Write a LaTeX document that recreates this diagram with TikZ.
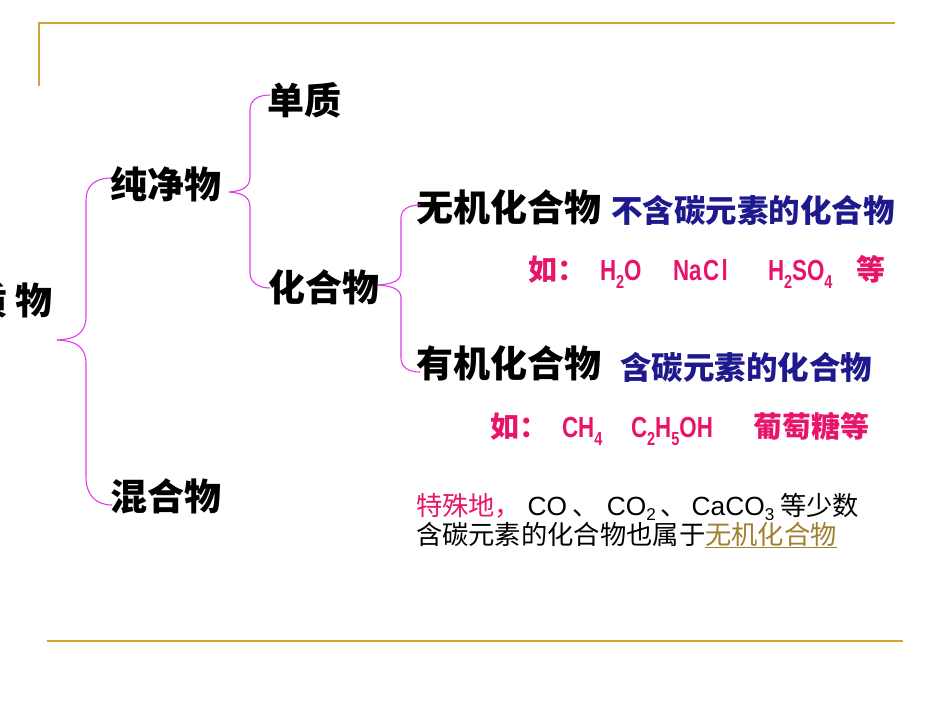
\documentclass[tikz,border=0pt]{standalone}
\usepackage{fontspec}
\usepackage{graphicx}
\usetikzlibrary{calc}
\setmainfont{Liberation Sans}
\newfontfamily\cjk{Noto Sans CJK SC}
\definecolor{gold}{RGB}{208,168,48}
\definecolor{bracec}{RGB}{225,60,235}
\definecolor{navyt}{RGB}{30,25,140}
\definecolor{pinkt}{RGB}{232,20,105}
\definecolor{ulc}{RGB}{160,128,48}
\newcommand\sbs[1]{\raisebox{-0.28em}{\scalebox{0.65}{#1}}}
\newcommand\sbn[1]{\raisebox{-0.2em}{\scalebox{0.65}{#1}}}
\newcommand\fsz[1]{\fontsize{#1}{#1}\selectfont}
\newcommand\fm[1]{\scalebox{0.77}[1]{\rmfamily\bfseries #1}}
\tikzset{
  every node/.style={inner sep=0pt, outer sep=0pt},
  mainlbl/.style={font=\cjk\bfseries\fsz{37}, text=black},
  desc/.style={font=\cjk\bfseries\fsz{31.5}, text=navyt},
  example/.style={font=\cjk\bfseries\fsz{29}, text=pinkt},
  note/.style={font=\cjk\fsz{26.3}, text=black},
  brace/.style={draw=bracec, line width=1.1pt},
  rule/.style={draw=gold, line width=2.6pt},
}
\begin{document}
\begin{tikzpicture}[x=1pt,y=-1pt]
\useasboundingbox (0,0) rectangle (950,713);
% frame rules
\draw[rule] (39,86) -- (39,23) -- (895,23);
\draw[rule] (47,641) -- (903,641);
% main labels
\node[mainlbl, anchor=east] (wz) at (53,300) {质 物};
\node[mainlbl, anchor=west] (cjw) at (110,184) {纯净物};
\node[mainlbl, anchor=west] (hhw) at (110,496) {混合物};
\node[mainlbl, anchor=west] (dz) at (267,100) {单质};
\node[mainlbl, anchor=west] (hhw2) at (268,287) {化合物};
\node[mainlbl, anchor=west] (wj) at (416,207) {无机化合物};
\node[mainlbl, anchor=west] (yj) at (416,363) {有机化合物};
% descriptions
\node[desc, anchor=west] (wjd) at (611,210) {不含碳元素的化合物};
\node[desc, anchor=west] (yjd) at (620,367) {含碳元素的化合物};
% examples
\node[example, anchor=base west] (wje) at (528,280)
  {\makebox[72pt][l]{如：}\makebox[73pt][l]{\fm{H\sbs{2}O}}\makebox[95pt][l]{\fm{Na\hspace{2pt}C\hspace{3pt}l}}\makebox[88pt][l]{\fm{H\sbs{2}SO\sbs{4}}}等};
\node[example, anchor=base west] (yje) at (490,437)
  {\makebox[72pt][l]{如：}\makebox[69pt][l]{\fm{CH\sbs{4}}}\makebox[122pt][l]{\fm{C\sbs{2}H\sbs{5}OH}}葡萄糖等};
% note
\node[note, anchor=base west] (ts1) at (416,515)
  {\textcolor{pinkt}{特殊地，}\hspace{6.5pt}{\rmfamily CO}\hspace{5pt}、\hspace{8.5pt}{\rmfamily CO\sbn{2}}\hspace{4.5pt}、\hspace{5pt}{\rmfamily CaCO\sbn{3}}\hspace{6pt}等少数};
\node[note, anchor=base west] (ts2) at (416,544)
  {含碳元素的化合物也属于\textcolor{ulc}{\underline{无机化合物}}};
% braces
\coordinate (t1) at (57,340);
\coordinate (t2) at (229,192);
\coordinate (t3) at (378,285);
\draw[brace] (t1) .. controls (78,339) and (86,332) .. (86,316) -- (86,200)
  .. controls (86,186) and (95,178) .. ($(cjw.west)+(1,-6)$);
\draw[brace] (t1) .. controls (78,341) and (86,348) .. (86,364) -- (86,477)
  .. controls (86,495) and (96,505) .. ($(hhw.west)+(2,9)$);
\draw[brace] (t2) .. controls (244,191) and (250,186) .. (250,177) -- (250,110)
  .. controls (250,100) and (258,95) .. ($(dz.west)+(3,-5)$);
\draw[brace] (t2) .. controls (244,193) and (250,198) .. (250,207) -- (250,273)
  .. controls (250,282) and (258,288) .. ($(hhw2.west)+(2,1)$);
\draw[brace] (t3) .. controls (394,284) and (401,280) .. (401,272) -- (401,218)
  .. controls (401,210) and (408,205) .. ($(wj.west)+(4,-2)$);
\draw[brace] (t3) .. controls (394,286) and (401,290) .. (401,298) -- (401,358)
  .. controls (401,367) and (408,372) .. ($(yj.west)+(4,9)$);
\end{tikzpicture}
\end{document}
